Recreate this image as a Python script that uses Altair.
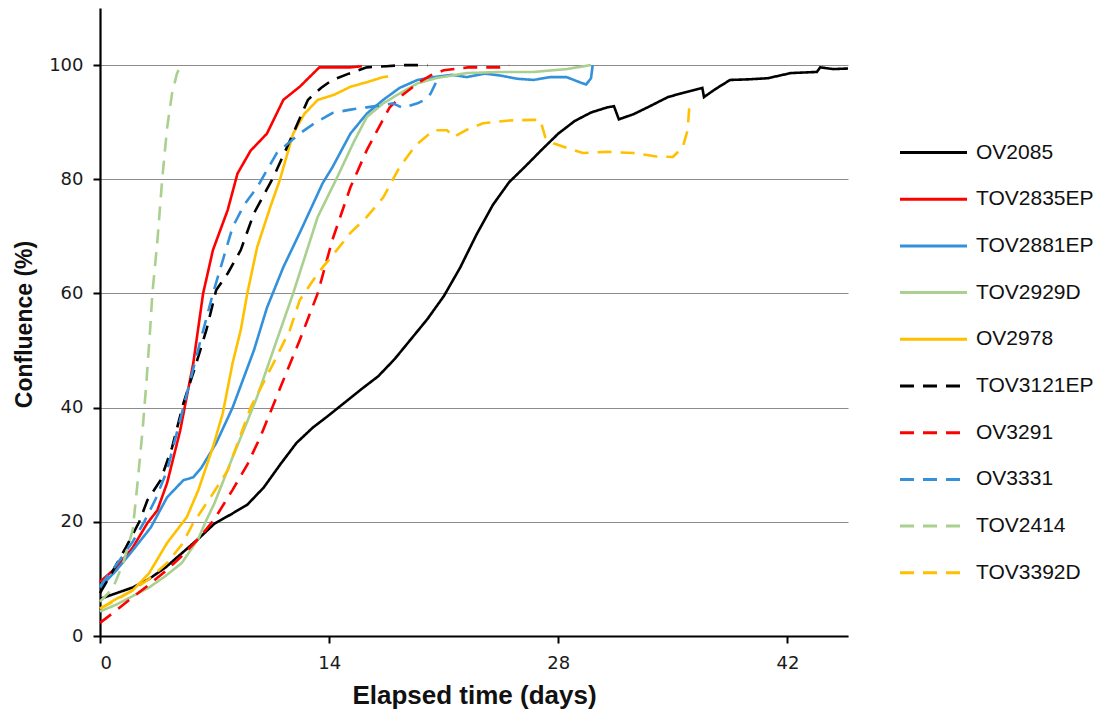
import altair as alt
import pandas as pd

series = ["OV2085", "TOV2835EP", "TOV2881EP", "TOV2929D", "OV2978",
          "TOV3121EP", "OV3291", "OV3331", "TOV2414", "TOV3392D"]
colors = ["#000000", "#FF0000", "#3391DC", "#A9D08E", "#FFC000",
          "#000000", "#FF0000", "#3391DC", "#A9D08E", "#FFC000"]
dashes = [[1, 0], [1, 0], [1, 0], [1, 0], [1, 0],
          [14, 9], [14, 9], [14, 9], [14, 9], [14, 9]]

x_ticks = [0, 14, 28, 42]
y_ticks = [0, 20, 40, 60, 80, 100]

ov2085_day = [0, 1, 2, 3, 4, 5, 6, 7, 8, 9, 10, 11, 12, 13, 14, 15, 16, 17, 18, 19, 20, 21, 22, 23, 24, 25, 26, 27, 28, 29, 30, 31, 31.4, 31.7, 32.6, 33.6, 34.7, 35.7, 36.8, 36.9, 37.6, 38.5, 39.6, 40.8, 42.2, 43.8, 44.0, 44.8, 45.7]
ov2085_conf = [6.5, 7.5, 8.5, 10, 12, 14.5, 17, 19.7, 21.3, 23, 26, 30, 33.8, 36.5, 38.7, 41, 43.3, 45.5, 48.5, 52, 55.5, 59.5, 64.5, 70.3, 75.5, 79.5, 82.3, 85.2, 88, 90.2, 91.7, 92.6, 92.8, 90.5, 91.4, 92.8, 94.4, 95.2, 96, 94.4, 95.8, 97.4, 97.5, 97.7, 98.6, 98.8, 99.6, 99.3, 99.4]

tov2835ep_day = [0, 1, 2, 2.9, 3.5, 4.1, 4.9, 5.7, 6.3, 6.9, 7.8, 8.4, 9.2, 10.2, 11.2, 12.2, 13.4, 14, 15.3, 16]
tov2835ep_conf = [9.5, 12, 15.5, 19.8, 22, 26.8, 36, 47.8, 60, 67.6, 74.6, 81, 85, 88, 93.9, 96.2, 99.6, 99.6, 99.6, 99.8]

tov2881ep_day = [0, 1, 2, 3.1, 4.1, 5.1, 5.7, 6.2, 7.1, 8.1, 9.4, 10.2, 11.2, 12.2, 13.6, 14.2, 15.3, 16.3, 17.3, 18.3, 19.4, 20.4, 21.5, 22.4, 23.5, 24.4, 25.5, 26.5, 27.5, 28.5, 29.3, 29.7, 30, 30.1]
tov2881ep_conf = [8.5, 11.5, 15, 19, 24.3, 27.3, 27.8, 29.5, 33.8, 40, 50, 57.5, 64.6, 70.6, 79.3, 82.1, 88, 91.5, 93.9, 96, 97.4, 97.9, 98.3, 97.9, 98.5, 98.2, 97.6, 97.4, 97.9, 97.9, 97, 96.6, 97.7, 100]

tov2929d_day = [0, 1, 2, 3, 4, 5, 6, 6.5, 7, 8.1, 9, 9.6, 10.8, 11.8, 13.3, 14.5, 15.5, 16.3, 17.3, 18.3, 19.4, 20.5, 22.4, 24.5, 26.5, 28.5, 30]
tov2929d_conf = [4.3, 5.5, 7, 8.5, 10.5, 12.8, 17, 20.3, 23.3, 31.3, 37.6, 41.9, 51.8, 60, 73.4, 80.4, 86.5, 90.9, 93.3, 95, 96.8, 97.7, 98.6, 98.8, 98.8, 99.3, 100]

ov2978_day = [0, 1, 2, 3, 4.1, 5.3, 6, 6.9, 7.5, 8.1, 8.6, 9, 9.6, 10.4, 11, 11.8, 12.5, 13.3, 14.3, 15.3, 16.3, 17.3, 17.6]
ov2978_conf = [4.8, 6.5, 8, 11, 16.3, 20.8, 25.5, 33.1, 39, 47.8, 53.6, 60, 68.1, 75.1, 80, 88, 91.5, 93.9, 94.8, 96.2, 97, 97.9, 98]

tov3121ep_day = [0, 0.8, 1.6, 2.4, 2.9, 3.7, 4.4, 5.1, 5.8, 6.5, 7.1, 7.8, 8.6, 9.4, 10.6, 11.8, 12.7, 13.5, 14.2, 15.2, 16.3, 17.5, 18.5, 20]
tov3121ep_conf = [7.5, 11.5, 15.6, 20, 23.8, 27.3, 33, 40.8, 47, 53.6, 60.6, 63.5, 67.6, 74, 80.4, 88, 93.9, 96, 97.4, 98.5, 99.6, 99.8, 100, 100]

ov3291_day = [0, 1, 2, 3, 4.1, 5, 6.1, 7, 8.1, 9, 9.8, 11.2, 12.2, 13.3, 14.2, 15.3, 16.3, 17.3, 17.7, 18.5, 19.4, 20.2, 21, 22.5, 24.4, 25]
ov3291_conf = [2.3, 4.5, 6.8, 9, 11.6, 14, 17.3, 20.5, 25.6, 30, 34.9, 44.8, 51.8, 60, 69.4, 78.6, 85.1, 90.5, 92.6, 94.8, 96.8, 98.2, 99.1, 99.6, 99.6, 100]

ov3331_day = [0, 1, 2, 2.7, 3.4, 4.1, 5, 6.1, 6.9, 8.1, 8.8, 9.6, 10.8, 12.2, 13.2, 14.2, 15.3, 16.3, 17.3, 17.9, 18.5, 19.4, 19.9, 20.2, 20.6]
ov3331_conf = [8.7, 12.5, 16.5, 20, 24, 29, 39, 51.3, 60, 71.6, 75.5, 78.6, 84.6, 88, 90, 91.6, 92.2, 92.6, 93, 93.3, 92.5, 93.3, 94, 95, 97.4]

tov2414_day = [0, 0.5, 0.8, 1.4, 2, 2.3, 2.6, 2.85, 3.06, 3.2, 3.5, 3.8, 4.1, 4.4, 4.7, 4.9, 5.2]
tov2414_conf = [6, 7.5, 8.5, 12.6, 18.6, 27, 36, 45, 53.6, 60, 69, 80, 89, 95, 98.5, 99.8, 100]

tov3392d_day = [0, 1, 2, 3, 4.1, 5, 5.7, 6.8, 7.8, 9.2, 10.6, 11.6, 12.2, 13.3, 14.3, 15.3, 16.3, 17.3, 18.3, 19.3, 20.4, 21.2, 21.6, 22.5, 23.4, 25, 26.5, 26.9, 27.2, 27.7, 28.5, 29.5, 31, 32.6, 34, 35, 35.6, 35.9, 36]
tov3392d_conf = [4.8, 6.3, 8, 10, 12.8, 16, 19.8, 24.5, 29, 40, 47.8, 53.6, 58.8, 63.5, 67, 70.6, 73.4, 76.8, 82.1, 86, 88.6, 88.6, 87.4, 88.8, 89.8, 90.3, 90.4, 90.4, 87.4, 86.3, 85.5, 84.6, 84.8, 84.6, 84, 83.9, 85.6, 88.6, 92.5]

all_days = [ov2085_day, tov2835ep_day, tov2881ep_day, tov2929d_day, ov2978_day,
            tov3121ep_day, ov3291_day, ov3331_day, tov2414_day, tov3392d_day]
all_conf = [ov2085_conf, tov2835ep_conf, tov2881ep_conf, tov2929d_conf, ov2978_conf,
            tov3121ep_conf, ov3291_conf, ov3331_conf, tov2414_conf, tov3392d_conf]

rows = []
for name, ds, cs in zip(series, all_days, all_conf):
    for i, (d, c) in enumerate(zip(ds, cs)):
        rows.append({"series": name, "day": d, "conf": c, "order": i})
df = pd.DataFrame(rows)

FONT = "Liberation Sans"
TICKFONT = "DejaVu Sans"

legend = alt.Legend(
    title=None, orient="none", legendX=822, legendY=133,
    symbolType="M-3.35,0L3.35,0", symbolSize=400, symbolStrokeWidth=3,
    labelFontSize=21, labelFont=FONT, labelColor="#111111",
    labelOffset=31, rowPadding=24.7, padding=0,
)

chart = alt.Chart(df).mark_line(strokeWidth=2.6).encode(
    x=alt.X("day:Q", scale=alt.Scale(domain=[0, 45.7], nice=False, zero=False),
            axis=alt.Axis(values=x_ticks, title="Elapsed time (days)", grid=False,
                          titleY=67, titleBaseline="alphabetic", titleFontSize=26)),
    y=alt.Y("conf:Q", scale=alt.Scale(domain=[0, 110], nice=False),
            axis=alt.Axis(values=y_ticks, title="Confluence (%)", grid=True,
                          titleX=-76, titleY=316, titleAngle=-90, titleFontSize=23,
                          titleAlign="center", titleBaseline="middle")),
    color=alt.Color("series:N", scale=alt.Scale(domain=series, range=colors), legend=legend),
    strokeDash=alt.StrokeDash("series:N", scale=alt.Scale(domain=series, range=dashes), legend=legend),
    detail="series:N",
    order="order:Q",
).properties(
    width=748, height=628,
    autosize=alt.AutoSizeParams(type="none"),
    padding={"left": 92, "top": 0, "right": 248, "bottom": 80},
).configure_view(stroke=None).configure_axis(
    domainColor="#000000", domainWidth=2.2, tickColor="#000000", tickWidth=2,
    tickSize=7, labelFont=TICKFONT, labelFontSize=18, labelColor="#1a1a1a",
    titleFont=FONT, titleFontWeight="bold",
    titleColor="#111111", gridColor="#8c8c8c", gridWidth=1.2,
).configure_axisX(labelPadding=11).configure_axisY(labelPadding=10)

chart.save("out.html", embed_options={"renderer": "svg", "actions": False})
